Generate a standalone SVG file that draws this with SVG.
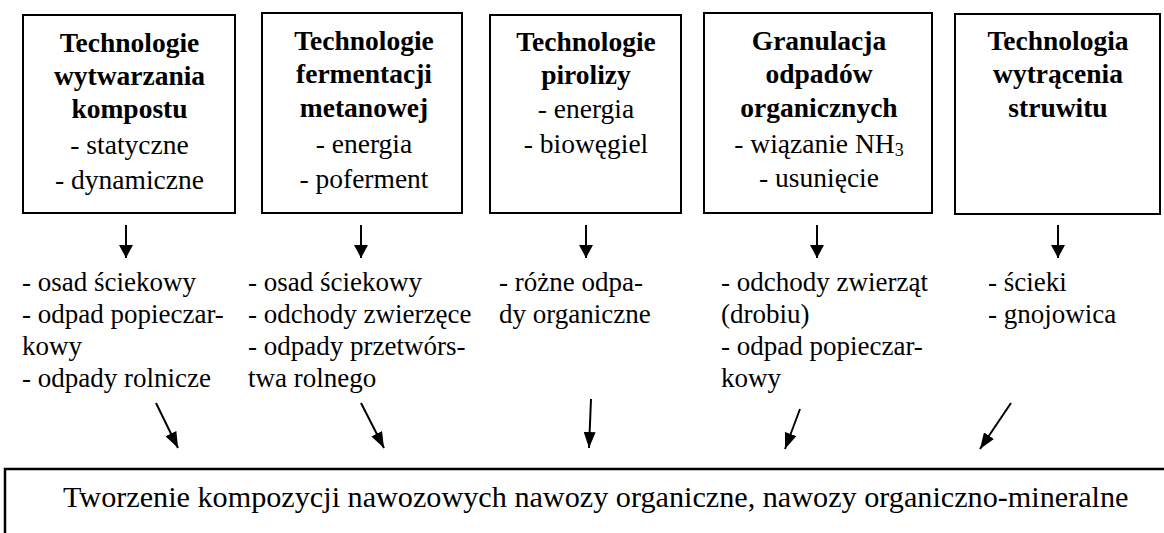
<svg xmlns="http://www.w3.org/2000/svg" width="1164" height="533" viewBox="0 0 1164 533" font-family="'Liberation Serif', 'Times New Roman', serif">
<style>
.box{fill:none;stroke:#000;stroke-width:2}
text{font-family:'Liberation Serif','Times New Roman',serif;fill:#000}
.t{font-size:27.5px;text-anchor:middle}
.b{font-weight:bold}
.l{font-size:27px}
.bot{font-size:30.2px}
.conn line{stroke:#000;stroke-width:2}
</style>
<defs>
<marker id="ah" markerUnits="userSpaceOnUse" markerWidth="14" markerHeight="14" refX="13" refY="7" orient="auto"><path d="M0,0 L13,7 L0,14 z" fill="#000"/></marker>
<marker id="ah2" markerUnits="userSpaceOnUse" markerWidth="16" markerHeight="12" refX="16" refY="6" orient="auto"><path d="M0,0 L16,6 L0,12 z" fill="#000"/></marker>
</defs>
<rect width="1164" height="533" fill="#fff"/>

<g id="n1">
<rect class="box" x="23" y="15" width="212" height="198"/>
<text class="t b" x="129.5" y="52">Technologie</text>
<text class="t b" x="129.5" y="85">wytwarzania</text>
<text class="t b" x="129.5" y="118">kompostu</text>
<text class="t" x="129.5" y="154">- statyczne</text>
<text class="t" x="129.5" y="189">- dynamiczne</text>
</g>
<g id="n2">
<rect class="box" x="262" y="13" width="200" height="200"/>
<text class="t b" x="364" y="50">Technologie</text>
<text class="t b" x="364" y="83">fermentacji</text>
<text class="t b" x="364" y="117">metanowej</text>
<text class="t" x="364" y="153">- energia</text>
<text class="t" x="364" y="188">- poferment</text>
</g>
<g id="n3">
<rect class="box" x="490" y="15" width="191" height="198"/>
<text class="t b" x="586" y="51">Technologie</text>
<text class="t b" x="586" y="84">pirolizy</text>
<text class="t" x="586" y="118">- energia</text>
<text class="t" x="586" y="153">- biowęgiel</text>
</g>
<g id="n4">
<rect class="box" x="704" y="13" width="228" height="200"/>
<text class="t b" x="819" y="50">Granulacja</text>
<text class="t b" x="819" y="83">odpadów</text>
<text class="t b" x="819" y="117">organicznych</text>
<text class="t" x="819" y="153">- wiązanie NH<tspan font-size="18" dy="3">3</tspan></text>
<text class="t" x="819" y="187">- usunięcie</text>
</g>
<g id="n5">
<rect class="box" x="955" y="14" width="205" height="200"/>
<text class="t b" x="1058" y="50">Technologia</text>
<text class="t b" x="1058" y="83">wytrącenia</text>
<text class="t b" x="1058" y="117">struwitu</text>
</g>

<g id="s1">
<text class="l" x="22" y="291">- osad ściekowy</text>
<text class="l" x="22" y="323">- odpad popieczar-</text>
<text class="l" x="22" y="355">kowy</text>
<text class="l" x="22" y="387">- odpady rolnicze</text>
</g>
<g id="s2">
<text class="l" x="248" y="291">- osad ściekowy</text>
<text class="l" x="248" y="323">- odchody zwierzęce</text>
<text class="l" x="248" y="355">- odpady przetwórs-</text>
<text class="l" x="248" y="387">twa rolnego</text>
</g>
<g id="s3">
<text class="l" x="499" y="291">- różne odpa-</text>
<text class="l" x="499" y="323">dy organiczne</text>
</g>
<g id="s4">
<text class="l" x="721" y="291">- odchody zwierząt</text>
<text class="l" x="721" y="323">(drobiu)</text>
<text class="l" x="721" y="355">- odpad popieczar-</text>
<text class="l" x="721" y="387">kowy</text>
</g>
<g id="s5">
<text class="l" x="988" y="291">- ścieki</text>
<text class="l" x="988" y="323">- gnojowica</text>
</g>

<g id="target">
<path d="M5,533 V469 H1164" fill="none" stroke="#000" stroke-width="2.5"/>
<text class="bot" x="63" y="507">Tworzenie kompozycji nawozowych nawozy organiczne, nawozy organiczno-mineralne</text>
</g>

<g id="connectors" class="conn">
<line x1="126" y1="225" x2="126" y2="258" marker-end="url(#ah)"/>
<line x1="361" y1="225" x2="361" y2="258" marker-end="url(#ah)"/>
<line x1="586" y1="225" x2="586" y2="258" marker-end="url(#ah)"/>
<line x1="817" y1="225" x2="817" y2="258" marker-end="url(#ah)"/>
<line x1="1058" y1="225" x2="1058" y2="258" marker-end="url(#ah)"/>
<line x1="156" y1="403" x2="178" y2="448" marker-end="url(#ah2)"/>
<line x1="361" y1="403" x2="384" y2="448" marker-end="url(#ah2)"/>
<line x1="591" y1="399" x2="589" y2="448" marker-end="url(#ah2)"/>
<line x1="800" y1="409" x2="785" y2="449" marker-end="url(#ah2)"/>
<line x1="1011" y1="403" x2="980" y2="449" marker-end="url(#ah2)"/>
</g>
</svg>
